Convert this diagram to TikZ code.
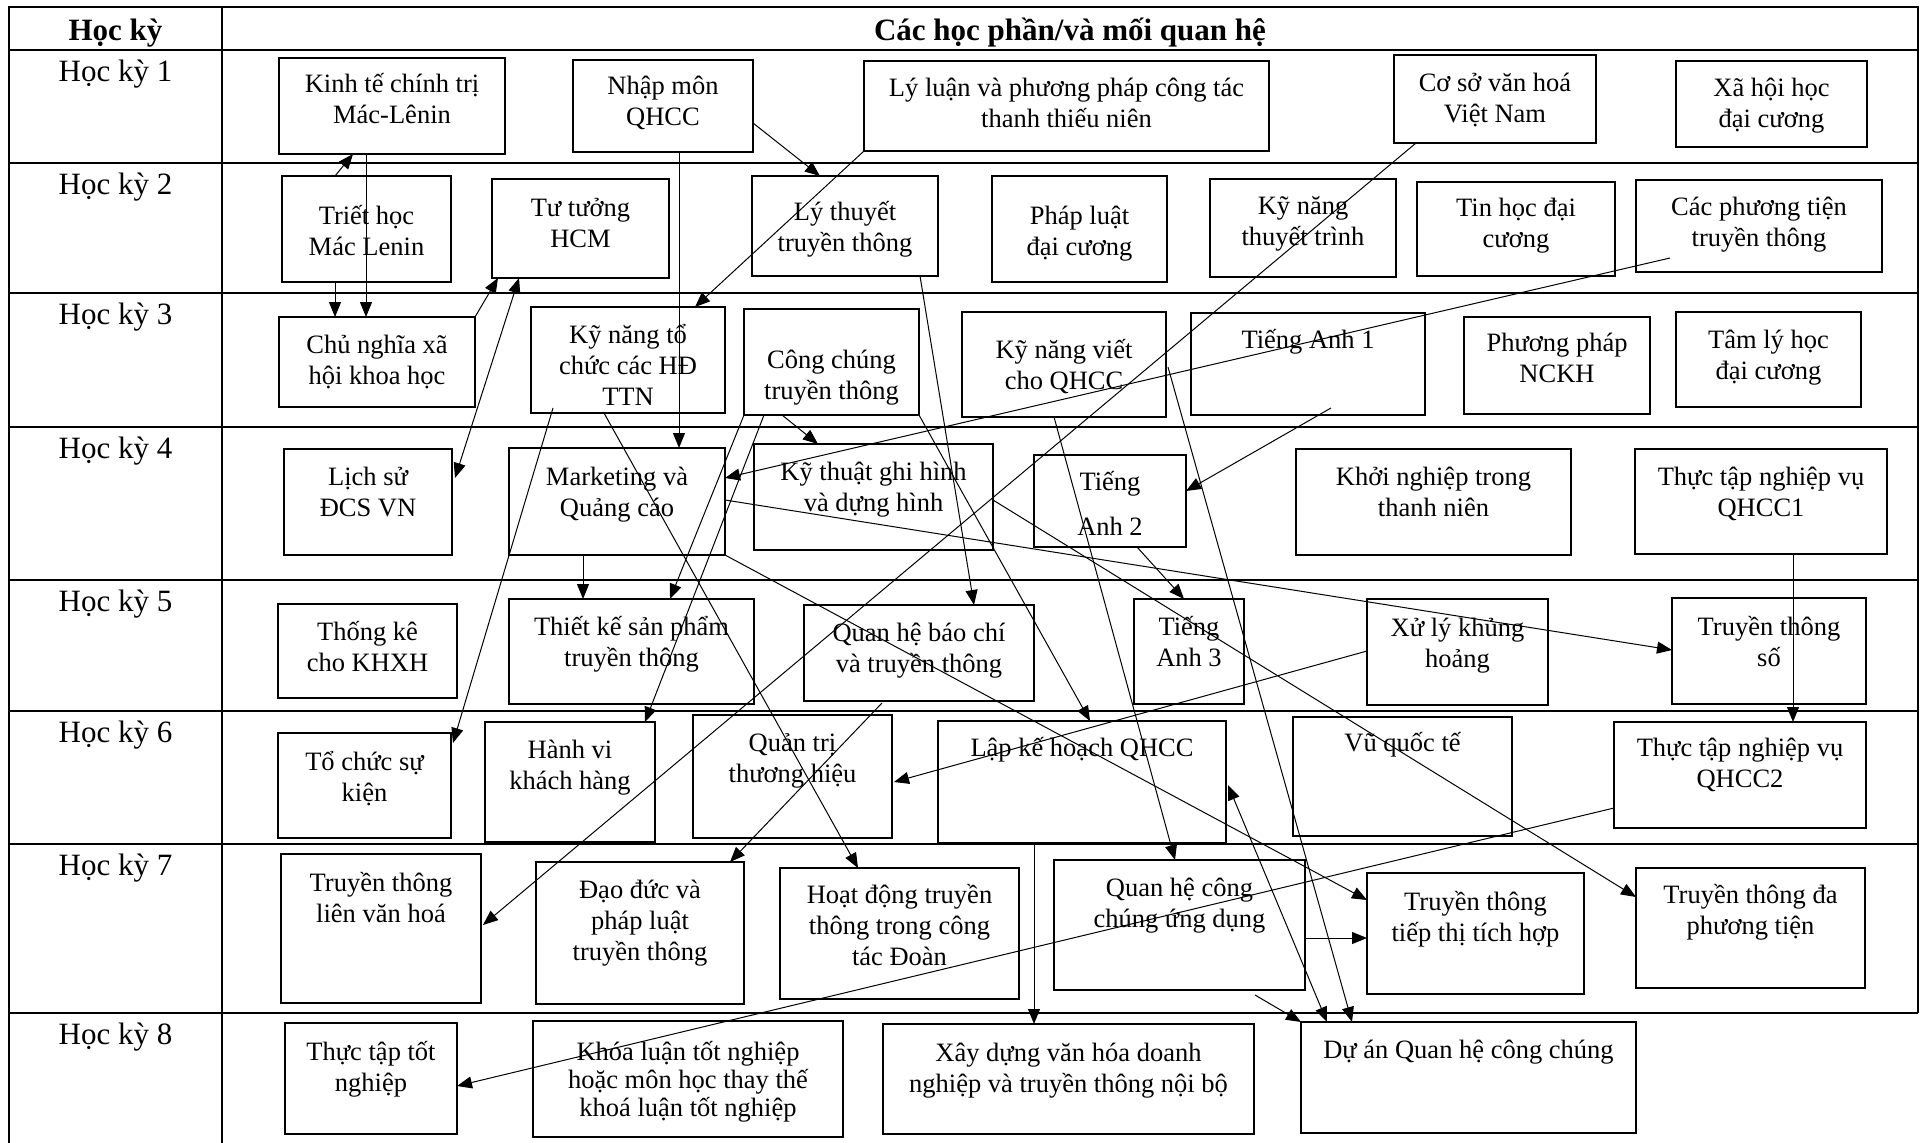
\documentclass[tikz,border=0pt]{standalone}
\usepackage{fontspec}
\setmainfont{Liberation Serif}
\usetikzlibrary{arrows.meta,calc}

\begin{document}
\begin{tikzpicture}[x=1pt,y=-1pt,
    box/.style={draw, line width=1.1pt, inner sep=0pt, outer sep=0pt, align=center,
        anchor=base, font=\fontsize{26.5}{31}\selectfont},
    arr/.style={line width=1pt, -{Triangle[length=15pt,width=12pt]}},
    arrs/.style={line width=1pt, {Triangle[length=15pt,width=12pt]}-{Triangle[length=15pt,width=12pt]}},
    grid/.style={line width=2.6pt},
    sem/.style={anchor=base, font=\fontsize{31}{36}\selectfont},
    head/.style={anchor=base, font=\fontsize{31}{36}\selectfont\bfseries}]
    % Parameters
    \def\rows{{50,163,293,427,580,711,844,1013}}
    \useasboundingbox (0,0) rectangle (1925,1143);

    % Draw table frame
    \draw[grid] (9,1143) -- (9,7) -- (1918,7) -- (1918,1013);
    \draw[grid] (222,7) -- (222,1143);
    \foreach \y in {50,163,293,427,580,711,844,1013} {
        \draw[grid] (9,\y) -- (1918,\y);
    }

    % Header and semester labels
    \node[head] (hdsem) at (115.5,40) {Học kỳ};
    \node[head] (hdmod) at (1070,40) {Các học phần/và mối quan hệ};
    \foreach \i in {1,...,8} {
        \pgfmathsetmacro{\y}{\rows[\i-1]+31}
        \node[sem] (hk\i) at (115.5,\y) {Học kỳ \i};
    }

    % Semester 1
    \node[box, minimum width=226pt, text height=65pt, text depth=31pt] (ktct) at (392,123) {Kinh tế chính trị\\Mác-Lênin};
    \node[box, minimum width=180pt, text height=65pt, text depth=27pt] (nmqhcc) at (663,125) {Nhập môn\\QHCC};
    \node[box, minimum width=405pt, text height=66pt, text depth=24pt] (llpp) at (1066.5,127) {Lý luận và phương pháp công tác\\thanh thiếu niên};
    \node[box, minimum width=202pt, text height=67pt, text depth=21pt] (csvh) at (1495,122) {Cơ sở văn hoá\\Việt Nam};
    \node[box, minimum width=191pt, text height=66pt, text depth=20pt] (xhh) at (1771.5,127) {Xã hội học\\đại cương};

    % Semester 2
    \node[box, minimum width=169pt, text height=79pt, text depth=27pt] (thml) at (366.5,255) {Triết học\\Mác Lenin};
    \node[box, minimum width=177pt, text height=68pt, text depth=31pt] (tthcm) at (580.5,247) {Tư tưởng\\HCM};
    \node[box, minimum width=186pt, text height=75pt, text depth=25pt] (lttt) at (845,251) {Lý thuyết\\truyền thông};
    \node[box, minimum width=175pt, text height=79pt, text depth=27pt] (pldc) at (1079.5,255) {Pháp luật\\đại cương};
    \node[box, minimum width=186pt, text height=66pt, text depth=32pt] (kntt) at (1303,245) {Kỹ năng\\thuyết trình};
    \node[box, minimum width=198pt, text height=65pt, text depth=29pt] (thdc) at (1516,247) {Tin học đại\\cương};
    \node[box, minimum width=246pt, text height=66pt, text depth=26pt] (cpttt) at (1759,246) {Các phương tiện\\truyền thông};

    % Semester 3
    \node[box, minimum width=196pt, text height=67pt, text depth=23pt] (cnxh) at (377,384) {Chủ nghĩa xã\\hội khoa học};
    \node[box, minimum width=194pt, text height=98pt, text depth=8pt] (kntc) at (628,405) {Kỹ năng tổ\\chức các HĐ\\TTN};
    \node[box, minimum width=175pt, text height=90pt, text depth=16pt] (cctt) at (831.5,399) {Công chúng\\truyền thông};
    \node[box, minimum width=204pt, text height=77pt, text depth=28pt] (knv) at (1064,389) {Kỹ năng viết\\cho QHCC};
    \node[box, minimum width=234pt, text height=35pt, text depth=67pt] (ta1) at (1308,348) {Tiếng Anh 1};
    \node[box, minimum width=186pt, text height=65pt, text depth=32pt] (ppnckh) at (1557,382) {Phương pháp\\NCKH};
    \node[box, minimum width=185pt, text height=67pt, text depth=28pt] (tlh) at (1768.5,379) {Tâm lý học\\đại cương};

    % Semester 4
    \node[box, minimum width=168pt, text height=67pt, text depth=39pt] (lsd) at (368,516) {Lịch sử\\ĐCS VN};
    \node[box, minimum width=216pt, text height=68pt, text depth=39pt] (mkt) at (617,516) {Marketing và\\Quảng cáo};
    \node[box, minimum width=239pt, text height=67pt, text depth=39pt] (ktgh) at (873.5,511) {Kỹ thuật ghi hình\\và dựng hình};
    \node[box, minimum width=152pt, text height=80pt, text depth=12pt] (ta2) at (1110,535) {Tiếng\\[14pt]Anh 2};
    \node[box, minimum width=275pt, text height=67pt, text depth=39pt] (knkn) at (1433.5,516) {Khởi nghiệp trong\\thanh niên};
    \node[box, minimum width=252pt, text height=67pt, text depth=38pt] (qhcc1) at (1761,516) {Thực tập nghiệp vụ\\QHCC1};

    % Semester 5
    \node[box, minimum width=179pt, text height=67pt, text depth=27pt] (tkkhxh) at (367.5,671) {Thống kê\\cho KHXH};
    \node[box, minimum width=245pt, text height=67pt, text depth=38pt] (tksp) at (631.5,666) {Thiết kế sản phẩm\\truyền thông};
    \node[box, minimum width=230pt, text height=67pt, text depth=29pt] (qhbc) at (919,672) {Quan hệ báo chí\\và truyền thông};
    \node[box, minimum width=110pt, text height=67pt, text depth=38pt] (ta3) at (1189,666) {Tiếng\\Anh 3};
    \node[box, minimum width=181pt, text height=68pt, text depth=38pt] (xlkh) at (1457.5,667) {Xử lý khủng\\hoảng};
    \node[box, minimum width=194pt, text height=68pt, text depth=38pt] (tts) at (1769,666) {Truyền thông\\số};

    % Semester 6
    \node[box, minimum width=173pt, text height=68pt, text depth=37pt] (tcsk) at (364.5,801) {Tổ chức sự\\kiện};
    \node[box, minimum width=170pt, text height=67pt, text depth=53pt] (hvkh) at (570,789) {Hành vi\\khách hàng};
    \node[box, minimum width=199pt, text height=67pt, text depth=56pt] (qtth) at (792.5,782) {Quản trị\\thương hiệu};
    \node[box, minimum width=288pt, text height=35pt, text depth=87pt] (lkh) at (1082,756) {Lập kế hoạch QHCC};
    \node[box, minimum width=219pt, text height=34pt, text depth=85pt] (vqt) at (1402.5,751) {Vũ quốc tế};
    \node[box, minimum width=252pt, text height=65pt, text depth=41pt] (qhcc2) at (1740,787) {Thực tập nghiệp vụ\\QHCC2};

    % Semester 7
    \node[box, minimum width=200pt, text height=68pt, text depth=81pt] (ttlvh) at (381,922) {Truyền thông\\liên văn hoá};
    \node[box, minimum width=208pt, text height=98pt, text depth=44pt] (ddpl) at (640,960) {Đạo đức và\\pháp luật\\truyền thông};
    \node[box, minimum width=239pt, text height=97pt, text depth=34pt] (hdtt) at (899.5,965) {Hoạt động truyền\\thông trong công\\tác Đoàn};
    \node[box, minimum width=251pt, text height=67pt, text depth=63pt] (qhccud) at (1179.5,927) {Quan hệ công\\chúng ứng dụng};
    \node[box, minimum width=217pt, text height=68pt, text depth=53pt] (tttt) at (1475.5,941) {Truyền thông\\tiếp thị tích hợp};
    \node[box, minimum width=229pt, text height=66pt, text depth=54pt] (ttdpt) at (1750.5,934) {Truyền thông đa\\phương tiện};

    % Semester 8
    \node[box, minimum width=172pt, text height=68pt, text depth=43pt] (tttn) at (371,1091) {Thực tập tốt\\nghiệp};
    \node[box, minimum width=310pt, text height=95pt, text depth=21pt] (kltn) at (688,1116) {Khóa luận tốt nghiệp\\[-3pt]hoặc môn học thay thế\\[-3pt]khoá luận tốt nghiệp};
    \node[box, minimum width=371pt, text height=68pt, text depth=42pt] (xdvh) at (1068.5,1092) {Xây dựng văn hóa doanh\\nghiệp và truyền thông nội bộ};
    \node[box, minimum width=335pt, text height=36pt, text depth=75pt] (daqhcc) at (1468.5,1058) {Dự án Quan hệ công chúng};

    % Relations between modules
    \draw[arr] ($(thml.north west)+(53,0)$) -- ($(ktct.south west)+(74,0)$);
    \draw[arr] ($(ktct.south west)+(87,0)$) -- ($(cnxh.north west)+(87,0)$);
    \draw[arr] ($(thml.south west)+(53,0)$) -- ($(cnxh.north west)+(56,0)$);
    \draw[arr] (cnxh.north east) -- ($(tthcm.south west)+(6,0)$);
    \draw[arrs] ($(lsd.north east)+(3,29)$) -- ($(tthcm.south west)+(27,0)$);
    \draw[arr] ($(nmqhcc.north east)+(0,63)$) -- ($(lttt.north west)+(68,0)$);
    \draw[arr] ($(nmqhcc.south west)+(106,0)$) -- ($(mkt.north west)+(170,0)$);
    \draw[arr] (llpp.south west) -- ($(kntc.north west)+(164,0)$);
    \draw[arr] ($(csvh.south west)+(22,0)$) -- ($(ttlvh.north east)+(2,71)$);
    \draw[arr] ($(lttt.south west)+(168,0)$) -- ($(qhbc.north west)+(170,0)$);
    \draw[arr] ($(cpttt.north west)+(34,78)$) -- ($(mkt.north east)+(0,30)$);
    \draw[arr] ($(cctt.south west)+(38,0)$) -- ($(ktgh.north west)+(64,0)$);
    \draw[arr] (cctt.south west) -- ($(tksp.north west)+(161,0)$);
    \draw[arr] ($(cctt.south west)+(20,0)$) -- ($(hvkh.north east)+(-10,0)$);
    \draw[arr] ($(kntc.south west)+(22,-5)$) -- ($(tcsk.north east)+(2,10)$);
    \draw[arr] ($(kntc.south west)+(73,0)$) -- ($(hdtt.north west)+(78,0)$);
    \draw[arr] ($(mkt.south west)+(74,0)$) -- ($(tksp.north west)+(74,0)$);
    \draw[arr] (mkt.south east) -- ($(tttt.north west)+(0,27)$);
    \draw[arr] ($(mkt.north east)+(0,52)$) -- ($(tts.north west)+(0,52)$);
    \draw[arr] ($(ktgh.north east)+(0,56)$) -- ($(ttdpt.north west)+(0,29)$);
    \draw[arr] (cctt.south east) -- ($(lkh.north west)+(152,0)$);
    \draw[arr] ($(knv.south west)+(92,0)$) -- ($(qhccud.north west)+(121,0)$);
    \draw[arr] ($(knv.north east)+(2,55)$) -- ($(daqhcc.north west)+(51,0)$);
    \draw[arr] ($(ta1.south west)+(140,-7)$) -- ($(ta2.north east)+(0,36)$);
    \draw[arr] ($(ta2.south west)+(103,0)$) -- ($(ta3.north west)+(50,0)$);
    \draw[arr] ($(qhbc.south west)+(78,2)$) -- ($(ddpl.north east)+(-14,0)$);
    \draw[arr] ($(xlkh.north west)+(0,52)$) -- ($(qtth.north east)+(2,67)$);
    \draw[arrs] ($(lkh.north east)+(2,64)$) -- ($(daqhcc.north west)+(26,0)$);
    \draw[arr] ($(lkh.south west)+(96,0)$) -- ($(xdvh.north west)+(151,0)$);
    \draw[arr] ($(qhccud.north east)+(0,78)$) -- ($(tttt.north west)+(0,65)$);
    \draw[arr] ($(qhccud.south west)+(201,5)$) -- (daqhcc.north west);
    \draw[arr] ($(qhcc2.south west)+(0,-20)$) -- ($(tttn.north east)+(0,63)$);
    \draw[arr] ($(qhcc1.south west)+(158,0)$) -- ($(qhcc2.north west)+(179,0)$);
\end{tikzpicture}
\end{document}
